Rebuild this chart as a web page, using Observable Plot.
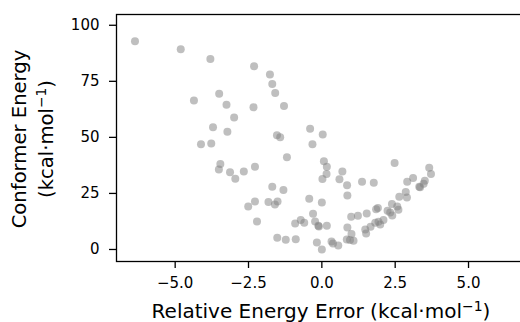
<!DOCTYPE html>
<html>
<head>
<meta charset="utf-8">
<script src="https://cdn.jsdelivr.net/npm/d3@7"></script>
<script src="https://cdn.jsdelivr.net/npm/@observablehq/plot@0.6"></script>
<style>
  html, body { margin: 0; padding: 0; background: white; }
  svg { display: block; }
</style>
</head>
<body>
<div id="chart"></div>
<script>
// Relative energy error (kcal/mol) and conformer energy (kcal/mol)
const errorValues = [
  -6.37, -4.81, -3.80, -2.31, -1.77, -1.69, -1.59, -4.36, -3.50, -3.25,
  -2.33, -1.29, -2.99, -3.71, -3.22, -1.53, -1.42, -0.40, 0.03, -0.32,
  -4.12, -3.77, -1.19, -3.46, -3.51, -3.13, -2.95, -2.66, -2.28, -1.69,
  -1.31, -2.28, -2.51, -1.82, -1.60, -1.51, -2.21, -0.43, -0.30, -0.91,
  -0.72, -0.60, -0.23, -0.12, -1.52, -1.23, -0.89, -0.17, 0.07, 0.17,
  0.16, 0.02, 0.70, 0.60, 0.86, 0.87, 1.37, 1.77, 2.48, 3.66,
  3.72, 3.51, 3.32, 3.35, 3.11, 2.91, 2.86, 2.90, 2.64, 2.39,
  2.57, 2.61, 2.24, 2.33, 2.40, 1.91, 1.85, 2.10, 1.93, 1.99,
  1.82, 1.66, 1.48, 1.51, 1.53, 1.00, 1.23, 0.87, 1.01, 0.85,
  0.96, 1.08, 0.00, -0.10, 0.17, 0.00, 0.33, 0.38, 0.56, 3.47
];
const conformerEnergies = [
  92.9, 89.3, 85.0, 81.7, 78.0, 73.8, 69.8, 66.5, 69.5, 64.5,
  63.4, 64.0, 58.9, 54.5, 52.5, 50.9, 50.0, 53.9, 51.3, 46.9,
  46.9, 47.3, 41.1, 38.1, 35.7, 34.5, 31.6, 34.8, 36.9, 28.0,
  26.5, 21.4, 19.2, 21.2, 20.1, 21.4, 12.5, 22.6, 15.9, 11.6,
  13.1, 11.9, 12.5, 10.6, 5.2, 4.3, 4.6, 3.1, 39.3, 36.9,
  33.7, 31.4, 34.8, 31.3, 28.6, 24.1, 30.2, 29.8, 38.6, 36.5,
  33.7, 30.7, 28.0, 27.7, 31.9, 30.2, 25.6, 23.2, 23.5, 20.3,
  19.2, 17.7, 17.3, 16.5, 15.2, 18.5, 17.9, 13.1, 12.4, 11.1,
  11.9, 10.1, 8.9, 7.1, 16.1, 14.6, 15.0, 9.8, 6.9, 4.5,
  4.2, 3.9, 21.0, 10.3, 10.6, 0.0, 3.6, 2.7, 1.8, 29.3
];
const xTicks = [-5, -2.5, 0, 2.5, 5];
const yTicks = [0, 25, 50, 75, 100];
const xTitle = "Relative Energy Error (kcal·mol";
const yTitleLine1 = "Conformer Energy";
const yTitleLine2 = "(kcal·mol";
const superscript = "−1";

const data = errorValues.map((x, i) => ({x, y: conformerEnergies[i]}));

const chart = Plot.plot({
  width: 520,
  height: 322,
  marginLeft: 116,
  marginRight: -2,
  marginTop: 14,
  marginBottom: 61,
  style: {fontFamily: "DejaVu Sans", fontSize: "15px", color: "black", background: "white"},
  x: {domain: [-7.0, 6.84], ticks: xTicks, tickFormat: d3.format(".1f"), tickSize: 7, tickPadding: 9, label: null},
  y: {domain: [-5.36, 104.8], ticks: yTicks, tickFormat: d3.format("d"), tickSize: 7, tickPadding: 10, label: null},
  marks: [
    Plot.dot(data, {x: "x", y: "y", r: 4, fill: "#808080", fillOpacity: 0.5, stroke: "none"}),
    Plot.frame({stroke: "black", strokeWidth: 1.3})
  ]
});

const svg = d3.select(chart);
svg.selectAll("g[aria-label='x-axis tick'] path, g[aria-label='y-axis tick'] path").attr("stroke-width", 1.3);

function addTitle(sel, main) {
  sel.append("tspan").text(main);
  sel.append("tspan").attr("font-size", "0.7em").attr("dy", "-0.45em").text(superscript);
  sel.append("tspan").attr("dy", "0.315em").text(")");
}

const tx = svg.append("text")
  .attr("x", 321).attr("y", 317.5)
  .attr("text-anchor", "middle")
  .attr("font-family", "DejaVu Sans").attr("font-size", 20).attr("fill", "black");
addTitle(tx, xTitle);

const ty = svg.append("g").attr("transform", "translate(0,139) rotate(-90)");
ty.append("text").attr("x", 0).attr("y", 26).attr("text-anchor", "middle")
  .attr("font-family", "DejaVu Sans").attr("font-size", 19.6).attr("fill", "black")
  .text(yTitleLine1);
const ty2 = ty.append("text").attr("x", 0).attr("y", 52.5).attr("text-anchor", "middle")
  .attr("font-family", "DejaVu Sans").attr("font-size", 19.6).attr("fill", "black");
addTitle(ty2, yTitleLine2);

document.getElementById("chart").appendChild(chart);
</script>
</body>
</html>
